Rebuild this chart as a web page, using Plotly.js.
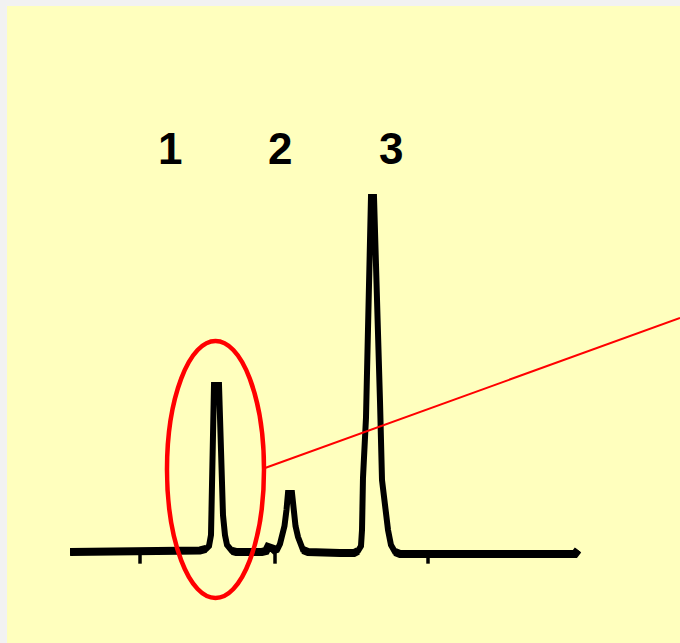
<!DOCTYPE html>
<html>
<head>
<meta charset="utf-8">
<script src="https://cdn.plot.ly/plotly-3.0.1.min.js"></script>
<style>
  html, body { margin: 0; padding: 0; background: #F2F2F2; }
  #chart { width: 680px; height: 643px; }
</style>
</head>
<body>
<div id="chart"></div>
<script>
// Chromatogram: retention time (min) and detector signal (mAU)
const retentionTime = [
  0.04, 1.412, 2.588,
  2.706, 2.765, 2.804, 2.824, 2.843, 2.863, 2.961, 2.980, 3.000, 3.039, 3.078, 3.118, 3.216, 3.294,
  3.804,
  3.882, 3.922, 3.980, 4.039, 4.098, 4.157, 4.196, 4.245, 4.284, 4.314, 4.392, 4.422, 4.461, 4.510, 4.549, 4.608, 4.706,
  5.333, 5.608,
  5.686, 5.745, 5.765, 5.784, 5.843, 5.882, 5.902, 5.922, 5.941, 6.000, 6.020, 6.059, 6.098, 6.118, 6.157, 6.216, 6.275, 6.333, 6.412, 6.510,
  7.059, 8.471, 9.941, 10.0
];
const signal = [
  0, 0.14, 0.42,
  0.84, 1.68, 4.75, 14.53, 28.49, 46.65, 46.65, 34.08, 20.11, 10.34, 4.75, 1.96, 0.28, 0,
  0,
  0.28, 1.40, 1.12, 0.28, 0.56, 2.23, 4.19, 7.26, 11.73, 16.48, 16.48, 11.73, 7.26, 4.19, 2.23, 0.56, 0,
  -0.28, -0.28,
  0.28, 1.68, 6.15, 20.67, 37.43, 62.01, 75.98, 89.94, 99.16, 99.16, 89.94, 75.98, 62.01, 41.90, 20.11, 12.57, 6.15, 1.96, 0, -0.56,
  -0.56, -0.56, -0.56, 0.56
];

// Small recorder ticks under the baseline
const tickTimes = [1.412, 4.059, 7.059];
const tickLevel = [-1.7, -1.7, -1.7];

// Peak numbers and where they sit
const peakLabels = ['1', '2', '3'];
const labelTimes = [2.0, 4.157, 6.333];
const labelLevel = 112.6;

// Baseline portions are drawn heavier than the peak flanks
const baselineSignal = signal.map(v => (Math.abs(v) < 1.5 ? v : null));

const traces = [
  {
    x: retentionTime, y: baselineSignal, type: 'scatter', mode: 'lines',
    line: { color: '#000000', width: 8 }, connectgaps: false, hoverinfo: 'skip'
  },
  {
    x: retentionTime, y: signal, type: 'scatter', mode: 'lines',
    line: { color: '#000000', width: 6 }, hoverinfo: 'skip'
  },
  {
    x: tickTimes, y: tickLevel, type: 'scatter', mode: 'markers',
    marker: { symbol: 'line-ns', size: 8, line: { color: '#000000', width: 3.5 } },
    hoverinfo: 'skip'
  }
];

// Highlight around peak 1 with a callout line
const ring = { x0: 1.941, x1: 3.843, y0: -12.85, y1: 58.94 };
const callout = { x0: 3.863, y0: 23.46, x1: 12.0, y1: 65.36 };

const layout = {
  width: 680, height: 643,
  margin: { l: 7, r: 0, t: 6, b: 0, pad: 0 },
  paper_bgcolor: '#F2F2F2',
  plot_bgcolor: '#FFFFBE',
  showlegend: false,
  xaxis: { range: [-1.196, 12.0], visible: false, fixedrange: true },
  yaxis: { range: [-25.42, 152.51], visible: false, fixedrange: true },
  annotations: peakLabels.map((t, i) => ({
    x: labelTimes[i], y: labelLevel, xref: 'x', yref: 'y', text: t, showarrow: false,
    xanchor: 'center', yanchor: 'middle',
    font: { family: 'Liberation Sans', size: 44, color: '#000000', weight: 'bold' }
  })),
  shapes: [
    {
      type: 'circle', xref: 'x', yref: 'y', layer: 'above',
      x0: ring.x0, x1: ring.x1, y0: ring.y0, y1: ring.y1,
      line: { color: '#FF0000', width: 4.5 }
    },
    {
      type: 'line', xref: 'x', yref: 'y', layer: 'above',
      x0: callout.x0, y0: callout.y0, x1: callout.x1, y1: callout.y1,
      line: { color: '#FF0000', width: 2 }
    }
  ]
};

Plotly.newPlot('chart', traces, layout, { staticPlot: true, displayModeBar: false });
</script>
</body>
</html>
